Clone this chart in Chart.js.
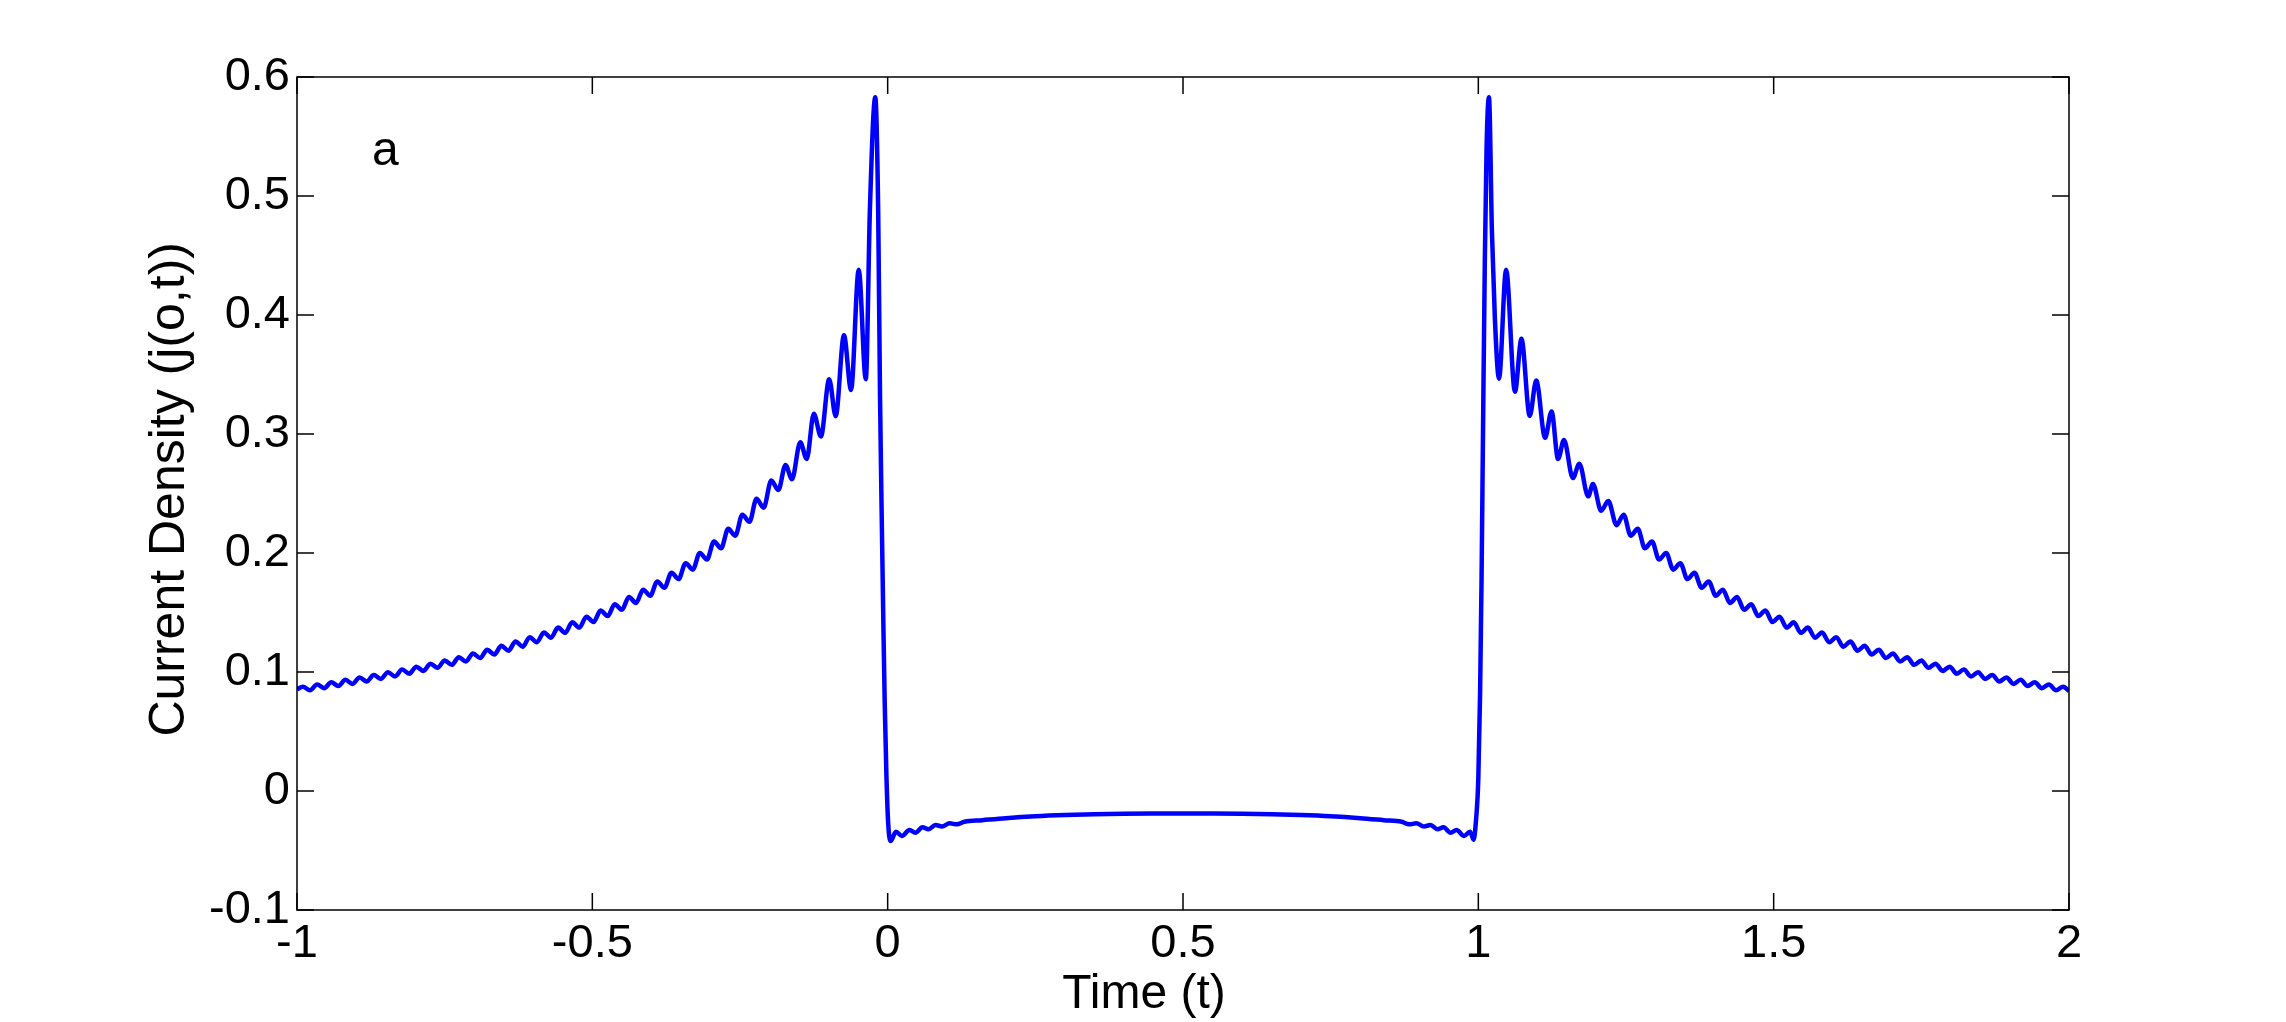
<!DOCTYPE html>
<html>
<head>
<meta charset="utf-8">
<title>Current Density</title>
<script src="https://cdn.jsdelivr.net/npm/chart.js@4.4.1/dist/chart.umd.min.js"></script>
<style>
  html, body { margin: 0; padding: 0; background: #fff; }
  canvas { display: block; }
</style>
</head>
<body>
<canvas id="currentChart" width="2286" height="1022"></canvas>
<script>
// t < 0 branch
const leftTime = [
  -1.000, -0.990, -0.978, -0.966, -0.954, -0.942, -0.930, -0.918, -0.906, -0.894,
  -0.882, -0.870, -0.858, -0.846, -0.834, -0.822, -0.810, -0.798, -0.786, -0.774,
  -0.762, -0.750, -0.738, -0.726, -0.714, -0.702, -0.690, -0.678, -0.666, -0.654,
  -0.642, -0.630, -0.618, -0.606, -0.594, -0.582, -0.570, -0.558, -0.546, -0.534,
  -0.522, -0.510, -0.498, -0.486, -0.474, -0.462, -0.450, -0.438, -0.426, -0.414,
  -0.402, -0.390, -0.378, -0.366, -0.354, -0.342, -0.330, -0.318, -0.306, -0.294,
  -0.282, -0.270, -0.258, -0.246, -0.234, -0.222, -0.210, -0.197, -0.185, -0.173,
  -0.162, -0.148, -0.137, -0.125, -0.113, -0.099, -0.088, -0.074, -0.062, -0.049,
  -0.037, -0.030, -0.021, -0.016, -0.013, -0.010, -0.007, -0.005, -0.002, 0.001
];
const leftCurrent = [
  0.0855, 0.0877, 0.0846, 0.0895, 0.0864, 0.0913, 0.0883, 0.0934, 0.0900, 0.0954,
  0.0920, 0.0975, 0.0942, 0.0998, 0.0963, 0.1020, 0.0986, 0.1045, 0.1009, 0.1070,
  0.1035, 0.1097, 0.1060, 0.1125, 0.1088, 0.1156, 0.1117, 0.1187, 0.1147, 0.1220,
  0.1179, 0.1256, 0.1213, 0.1293, 0.1250, 0.1332, 0.1288, 0.1373, 0.1329, 0.1418,
  0.1373, 0.1465, 0.1420, 0.1516, 0.1470, 0.1570, 0.1523, 0.1630, 0.1580, 0.1692,
  0.1641, 0.1761, 0.1708, 0.1834, 0.1781, 0.1914, 0.1860, 0.2001, 0.1945, 0.2097,
  0.2040, 0.2203, 0.2145, 0.2322, 0.2262, 0.2455, 0.2380, 0.2610, 0.2530, 0.2740,
  0.2620, 0.2930, 0.2790, 0.3170, 0.2980, 0.3460, 0.3150, 0.3830, 0.3370, 0.4380,
  0.3460, 0.4900, 0.5830, 0.4850, 0.3340, 0.2280, 0.1320, 0.0740, 0.0110, -0.0280
];

// 0 < t < 1
const midTime = [
  0.005, 0.014, 0.024, 0.037, 0.047, 0.059, 0.069, 0.081, 0.092, 0.105,
  0.117, 0.130, 0.160, 0.200, 0.250, 0.300, 0.350, 0.400, 0.450, 0.500,
  0.550, 0.600, 0.650, 0.700, 0.750, 0.800, 0.840, 0.870, 0.883, 0.895,
  0.908, 0.919, 0.931, 0.941, 0.953, 0.963, 0.976, 0.986, 0.992, 0.996
];
const midCurrent = [
  -0.0420, -0.0342, -0.0378, -0.0328, -0.0350, -0.0305, -0.0322, -0.0286, -0.0298, -0.0272,
  -0.0280, -0.0258, -0.0245, -0.0228, -0.0212, -0.0202, -0.0196, -0.0192, -0.0190, -0.0190,
  -0.0190, -0.0192, -0.0196, -0.0202, -0.0212, -0.0228, -0.0245, -0.0258, -0.0280, -0.0272,
  -0.0298, -0.0286, -0.0322, -0.0305, -0.0350, -0.0328, -0.0378, -0.0342, -0.0410, -0.0250
];

// t > 1 branch
const rightTime = [
  1.000, 1.003, 1.0055, 1.008, 1.011, 1.014, 1.018, 1.023, 1.028, 1.035,
  1.047, 1.062, 1.073, 1.087, 1.098, 1.113, 1.124, 1.135, 1.145, 1.160,
  1.171, 1.186, 1.194, 1.208, 1.220, 1.234, 1.246, 1.258, 1.270, 1.282,
  1.294, 1.306, 1.318, 1.330, 1.342, 1.354, 1.366, 1.378, 1.390, 1.402,
  1.414, 1.426, 1.438, 1.450, 1.462, 1.474, 1.486, 1.498, 1.510, 1.522,
  1.534, 1.546, 1.558, 1.570, 1.582, 1.594, 1.606, 1.618, 1.630, 1.642,
  1.654, 1.666, 1.678, 1.690, 1.702, 1.714, 1.726, 1.738, 1.750, 1.762,
  1.774, 1.786, 1.798, 1.810, 1.822, 1.834, 1.846, 1.858, 1.870, 1.882,
  1.894, 1.906, 1.918, 1.930, 1.942, 1.954, 1.966, 1.978, 1.990, 2.000
];
const rightCurrent = [
  0.0110, 0.0830, 0.1800, 0.3060, 0.4460, 0.5420, 0.5830, 0.4700, 0.3970, 0.3465,
  0.4380, 0.3355, 0.3800, 0.3152, 0.3450, 0.2968, 0.3190, 0.2790, 0.2950, 0.2630,
  0.2750, 0.2476, 0.2580, 0.2355, 0.2437, 0.2234, 0.2322, 0.2145, 0.2203, 0.2040,
  0.2097, 0.1945, 0.2001, 0.1860, 0.1914, 0.1781, 0.1834, 0.1708, 0.1761, 0.1641,
  0.1692, 0.1580, 0.1630, 0.1523, 0.1570, 0.1470, 0.1516, 0.1420, 0.1465, 0.1373,
  0.1418, 0.1329, 0.1373, 0.1288, 0.1332, 0.1250, 0.1293, 0.1213, 0.1256, 0.1179,
  0.1220, 0.1147, 0.1187, 0.1117, 0.1156, 0.1088, 0.1125, 0.1060, 0.1097, 0.1035,
  0.1070, 0.1009, 0.1045, 0.0986, 0.1020, 0.0963, 0.0998, 0.0942, 0.0975, 0.0920,
  0.0954, 0.0900, 0.0934, 0.0883, 0.0913, 0.0864, 0.0895, 0.0846, 0.0877, 0.0840
];

const xTicks = [-1, -0.5, 0, 0.5, 1, 1.5, 2];
const xTickLabels = ['-1', '-0.5', '0', '0.5', '1', '1.5', '2'];
const yTicks = [-0.1, 0, 0.1, 0.2, 0.3, 0.4, 0.5, 0.6];
const yTickLabels = ['-0.1', '0', '0.1', '0.2', '0.3', '0.4', '0.5', '0.6'];

const xTitle = 'Time (t)';
const yTitle = 'Current Density (j(o,t))';
const panelLabel = 'a';

document.addEventListener('DOMContentLoaded', () => {
  const ctx = document.getElementById('currentChart').getContext('2d');
  const fontFamily = "'Liberation Sans', Arial, Helvetica, sans-serif";

  const times = [...leftTime, ...midTime, ...rightTime];
  const values = [...leftCurrent, ...midCurrent, ...rightCurrent];
  const points = times.map((t, i) => ({ x: t, y: values[i] }));

  // matlab style box: frame, inward ticks on all four sides, titles
  const boxPlugin = {
    id: 'matlabBox',
    afterDraw(chart) {
      const { ctx, chartArea: a, scales: { x, y } } = chart;
      const tickLen = 17;
      ctx.save();
      ctx.strokeStyle = '#000';
      ctx.lineWidth = 1.5;
      ctx.strokeRect(a.left, a.top, a.right - a.left, a.bottom - a.top);
      ctx.beginPath();
      xTicks.forEach(v => {
        const px = x.getPixelForValue(v);
        ctx.moveTo(px, a.bottom); ctx.lineTo(px, a.bottom - tickLen);
        ctx.moveTo(px, a.top); ctx.lineTo(px, a.top + tickLen);
      });
      yTicks.forEach(v => {
        const py = y.getPixelForValue(v);
        ctx.moveTo(a.left, py); ctx.lineTo(a.left + tickLen, py);
        ctx.moveTo(a.right, py); ctx.lineTo(a.right - tickLen, py);
      });
      ctx.stroke();

      ctx.fillStyle = '#000';
      ctx.font = `48px ${fontFamily}`;
      ctx.textAlign = 'left';
      ctx.textBaseline = 'alphabetic';
      ctx.fillText(panelLabel, x.getPixelForValue(-0.873), y.getPixelForValue(0.526));

      ctx.textAlign = 'center';
      ctx.fillText(xTitle, a.left + (a.right - a.left) * 0.478, a.bottom + 98);

      ctx.font = `50px ${fontFamily}`;
      ctx.translate(a.left - 113, a.top + (a.bottom - a.top) * 0.495);
      ctx.rotate(-Math.PI / 2);
      ctx.fillText(yTitle, 0, 0);
      ctx.restore();
    }
  };

  new Chart(ctx, {
    type: 'line',
    data: {
      datasets: [{
        label: 'j(o,t)',
        data: points,
        borderColor: '#0000ff',
        borderWidth: 4.5,
        pointRadius: 0,
        fill: false,
        cubicInterpolationMode: 'monotone'
      }]
    },
    options: {
      responsive: false,
      animation: false,
      devicePixelRatio: 1,
      layout: { padding: { top: 77, right: 217, left: 0, bottom: 0 } },
      plugins: {
        legend: { display: false },
        tooltip: { enabled: false }
      },
      scales: {
        x: {
          type: 'linear',
          min: -1,
          max: 2,
          grid: { display: false, drawTicks: false },
          border: { display: false },
          afterBuildTicks: scale => { scale.ticks = xTicks.map(v => ({ value: v })); },
          afterFit: scale => { scale.height = 112; },
          ticks: {
            autoSkip: false,
            maxRotation: 0,
            padding: 6,
            color: '#000',
            font: { family: fontFamily, size: 47 },
            callback: (value, i) => xTickLabels[i]
          }
        },
        y: {
          type: 'linear',
          min: -0.1,
          max: 0.6,
          grid: { display: false, drawTicks: false },
          border: { display: false },
          afterBuildTicks: scale => { scale.ticks = yTicks.map(v => ({ value: v })); },
          afterFit: scale => { scale.width = 297; },
          ticks: {
            autoSkip: false,
            padding: 7,
            color: '#000',
            font: { family: fontFamily, size: 47 },
            callback: (value, i) => yTickLabels[i]
          }
        }
      }
    },
    plugins: [boxPlugin]
  });
});
</script>
</body>
</html>
